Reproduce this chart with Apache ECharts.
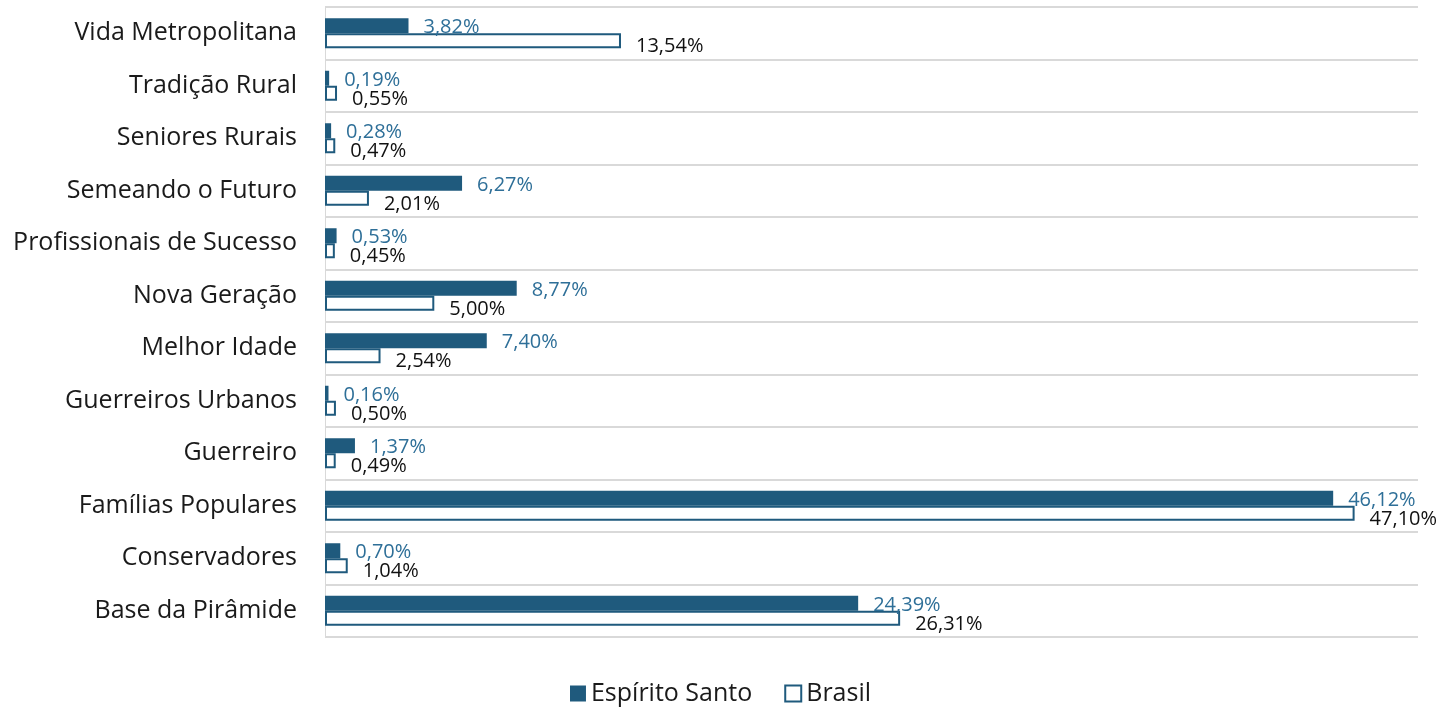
<!DOCTYPE html>
<html><head><meta charset="utf-8">
<script src="https://cdn.jsdelivr.net/npm/echarts@6/dist/echarts.min.js"></script>
<style>html,body{margin:0;padding:0;background:#fff}#c{width:1441px;height:709px}</style>
</head><body><div id="c"></div>
<script>
const categories = ["Vida Metropolitana","Tradição Rural","Seniores Rurais","Semeando o Futuro","Profissionais de Sucesso","Nova Geração","Melhor Idade","Guerreiros Urbanos","Guerreiro","Famílias Populares","Conservadores","Base da Pirâmide"];
const espiritoSanto = [3.82,0.19,0.28,6.27,0.53,8.77,7.40,0.16,1.37,46.12,0.70,24.39];
const brasil = [13.54,0.55,0.47,2.01,0.45,5.00,2.54,0.50,0.49,47.10,1.04,26.31];
const seriesNames = ["Espírito Santo","Brasil"];

const FONT = "'Open Sans', 'Noto Sans', sans-serif";
const fmt = p => p.value.toFixed(2).replace('.', ',') + '%';
const chart = echarts.init(document.getElementById('c'));
chart.setOption({
  animation: false,
  grid: {left: 325, right: 23, top: 7, bottom: 72, containLabel: false},
  xAxis: {type: 'value', min: 0, max: 50, show: true,
    axisLine: {show: false}, axisTick: {show: false}, axisLabel: {show: false}, splitLine: {show: false}},
  yAxis: {type: 'category', data: categories, inverse: true,
    axisLine: {show: true, lineStyle: {color: '#d9d9d9', width: 1}},
    axisTick: {show: false},
    axisLabel: {color: '#1a1a1a', fontSize: 25, fontFamily: FONT, margin: 28, padding: [8, 0, 0, 0]},
    splitLine: {show: true, lineStyle: {color: '#d9d9d9', width: 2}}},
  legend: {bottom: -2, left: 'center', itemWidth: 16, itemHeight: 16, itemGap: 32,
    textStyle: {fontSize: 25, fontFamily: FONT, color: '#1a1a1a'},
    data: [{name: seriesNames[0], icon: 'rect'}, {name: seriesNames[1], icon: 'rect'}]},
  series: [
    {name: seriesNames[0], type: 'bar', data: espiritoSanto, barWidth: 15, barGap: '0%',
      itemStyle: {color: '#1f5a7d'},
      label: {show: true, position: 'right', distance: 15, offset: [0, 2], formatter: fmt,
        color: '#2e6f98', fontSize: 20, fontFamily: FONT}},
    {name: seriesNames[1], type: 'bar', data: brasil, barWidth: 15, barGap: '0%',
      itemStyle: {color: '#ffffff', borderColor: '#1f5a7d', borderWidth: 2},
      label: {show: true, position: 'right', distance: 15, offset: [0, 6], formatter: fmt,
        color: '#111111', fontSize: 20, fontFamily: FONT}}
  ]
});
</script></body></html>
